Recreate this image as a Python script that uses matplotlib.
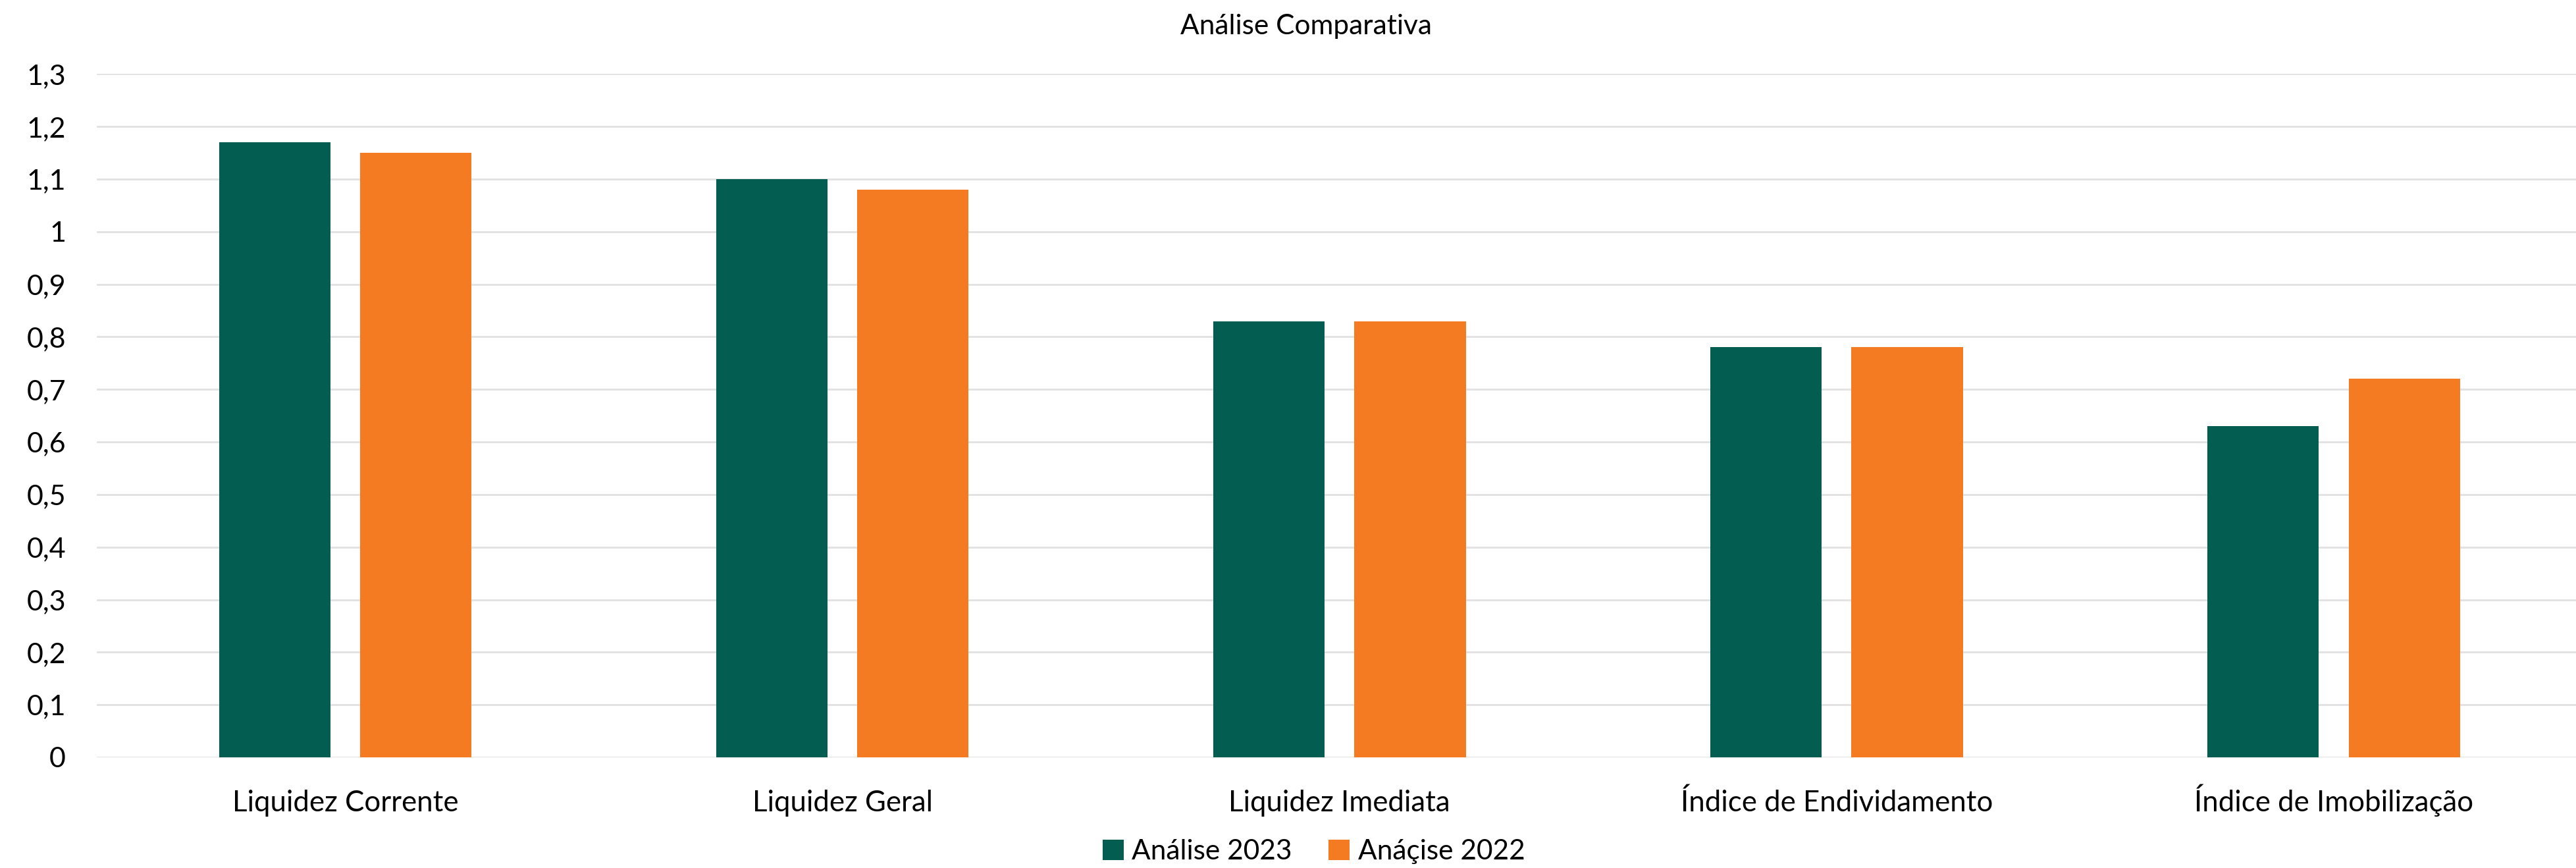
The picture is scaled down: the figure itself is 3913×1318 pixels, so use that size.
import matplotlib.pyplot as plt
import numpy as np

plt.rcParams['font.family'] = ['Lato', 'DejaVu Sans']

categorias = ["Liquidez Corrente", "Liquidez Geral", "Liquidez Imediata",
              "Índice de Endividamento", "Índice de Imobilização"]
analise_2023 = [1.17, 1.10, 0.83, 0.78, 0.63]
analise_2022 = [1.15, 1.08, 0.83, 0.78, 0.72]
yticks = [0, 0.1, 0.2, 0.3, 0.4, 0.5, 0.6, 0.7, 0.8, 0.9, 1.0, 1.1, 1.2, 1.3]

verde = "#035E51"
laranja = "#F47B22"

fig = plt.figure(figsize=(39.13, 13.18), dpi=100)
ax = fig.add_axes([0.0376, 0.1275, 0.9648, 0.7875])

x = np.arange(len(categorias))
largura = 0.224
desloc = 0.142

ax.bar(x - desloc, analise_2023, largura, color=verde, label="Análise 2023", zorder=3)
ax.bar(x + desloc, analise_2022, largura, color=laranja, label="Anáçise 2022", zorder=3)

ax.set_xlim(-0.5, 4.5)
ax.set_ylim(0, 1.3005)
ax.set_yticks(yticks)
ax.set_yticklabels([f"{v:g}".replace(".", ",") for v in yticks])
ax.set_xticks(x)
ax.set_xticklabels(categorias)

for s in ax.spines.values():
    s.set_visible(False)
ax.grid(axis="y", color="#E3E3E3", linewidth=2.2, zorder=0)
ax.tick_params(axis="y", length=0, pad=34, labelsize=31)
ax.tick_params(axis="x", length=0, pad=59, labelsize=31.5)
# alinhar os rótulos pela linha de base (os com acento ficam no mesmo nível)
for lbl in ax.get_xticklabels():
    lbl.set_va("baseline")

fig.text(0.507, 0.97, "Análise Comparativa", ha="center", va="center", fontsize=30.5)

fig.legend(loc="center", bbox_to_anchor=(0.51, 0.019), ncol=2, frameon=False,
           fontsize=30.5, handlelength=0.75, handleheight=0.75, columnspacing=1.3,
           handletextpad=0.3)

fig.savefig("out.png", dpi=100)
